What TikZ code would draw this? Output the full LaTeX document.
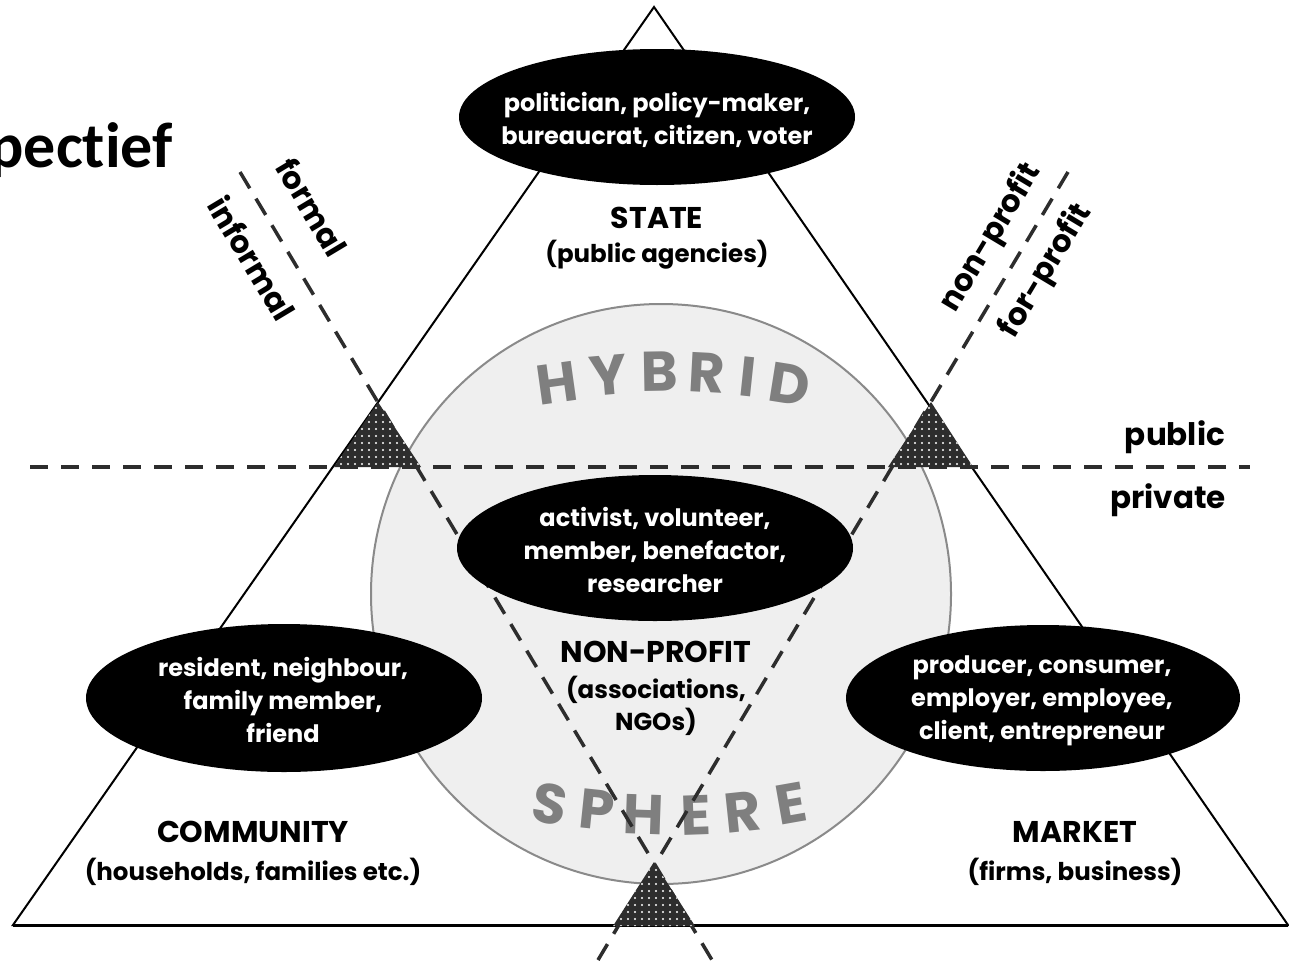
\documentclass[tikz,border=0pt]{standalone}
\usepackage{fontspec}
\setmainfont{Poppins}
\newfontfamily\calibrifont{Carlito}[Ligatures=NoCommon]
\usetikzlibrary{shapes.geometric,patterns}
\pgfdeclarepatternformonly{whitedots}{\pgfqpoint{0pt}{0pt}}{\pgfqpoint{6.5pt}{6.5pt}}{\pgfqpoint{6.5pt}{6.5pt}}{\pgfpathcircle{\pgfqpoint{3.25pt}{3.25pt}}{1.2pt}\pgfusepath{fill}}
\definecolor{hybfill}{HTML}{EFEFEF}
\definecolor{hybline}{HTML}{8A8A8A}
\definecolor{dashcol}{HTML}{2D2D2D}
\definecolor{lettercol}{HTML}{7F7F7F}
\begin{document}
\begin{tikzpicture}[x=1pt,y=-1pt,
  roletext/.style={text=white, font=\bfseries\fontsize{24}{33}\selectfont, align=center, inner sep=0pt},
  blob/.style={fill=black},
  headtext/.style={font=\bfseries\fontsize{30}{31}\selectfont, inner sep=0pt},
  subtext/.style={font=\bfseries\fontsize{24.5}{32}\selectfont, align=center, inner sep=0pt},
  divtext/.style={font=\bfseries\fontsize{31}{32}\selectfont, inner sep=0pt},
  dashline/.style={draw=dashcol, line width=3.5pt, dash pattern=on 19pt off 12pt},
  hdash/.style={draw=dashcol, line width=4pt, dash pattern=on 18pt off 13pt},
  dottri/.style={fill=dashcol, postaction={pattern=whitedots, pattern color=white}},
  arcletter/.style={text=lettercol, font=\bfseries\fontsize{56}{56}\selectfont, inner sep=0pt}
]
\useasboundingbox (0,0) rectangle (1289,961);
\fill[white] (0,0) rectangle (1289,961);

% title fragment
\node[anchor=base east, font=\calibrifont\bfseries\fontsize{64}{66}\selectfont, inner sep=0pt] (title) at (173,167) {pectief};

% hybrid circle
\coordinate (hc) at (661,594);
\draw[fill=hybfill, draw=hybline, line width=2pt] (hc) circle[radius=290pt];

% HYBRID letters
\node[arcletter, rotate=8]  (h1) at (557,383) {H};
\node[arcletter, rotate=5]  (h2) at (608,375) {Y};
\node[arcletter, rotate=1]  (h3) at (660,372) {B};
\node[arcletter, rotate=-3] (h4) at (707,373) {R};
\node[arcletter, rotate=-6] (h5) at (748,377) {I};
\node[arcletter, rotate=-9] (h6) at (790,384) {D};
% SPHERE letters
\node[arcletter, rotate=-10] (s1) at (550,804) {S};
\node[arcletter, rotate=-6] (s2) at (597,810) {P};
\node[arcletter, rotate=-2] (s3) at (644,815) {H};
\node[arcletter, rotate=2]  (s4) at (696,815) {E};
\node[arcletter, rotate=6]  (s5) at (743,812) {R};
\node[arcletter, rotate=10] (s6) at (791,803) {E};

% big triangle
\coordinate (apex) at (654,7);
\coordinate (bl) at (13,925);
\coordinate (br) at (1288,925);
\draw[line width=2pt, line join=miter] (apex) -- (bl) -- (br) -- cycle;
\draw[line width=3pt] (bl) -- (br);

% public / private divider
\coordinate (hl) at (30,467);
\coordinate (hr) at (1250,467);
\draw[hdash] (hl) -- (hr);

% diagonal dividers
\coordinate (la) at (240,172);
\coordinate (lb) at (712,960);
\coordinate (ra) at (1068,172);
\coordinate (rb) at (598,960);
\draw[dashline] (la) -- (lb);
\draw[dashline] (ra) -- (rb);

% role ellipses
\fill[blob] (657,117) ellipse[x radius=198pt, y radius=68pt];
\node[roletext] (rstate) at (657,120) {politician, policy-maker,\\bureaucrat, citizen, voter};
\fill[blob] (655,548) ellipse[x radius=198pt, y radius=73pt];
\node[roletext] (rnp) at (655,550) {activist, volunteer,\\member, benefactor,\\researcher};
\fill[blob] (284,698) ellipse[x radius=198pt, y radius=74pt];
\node[roletext] (rcom) at (283,700) {resident, neighbour,\\family member,\\friend};
\fill[blob] (1043,698) ellipse[x radius=197pt, y radius=73pt];
\node[roletext] (rmkt) at (1042,701) {producer, consumer,\\employer, employee,\\client, entrepreneur};

% dotted triangles
\coordinate (t1a) at (378,402); \coordinate (t1l) at (334,467); \coordinate (t1r) at (421,467);
\coordinate (t2a) at (931,402); \coordinate (t2l) at (888,467); \coordinate (t2r) at (973,467);
\coordinate (t3a) at (654,862); \coordinate (t3l) at (613,926); \coordinate (t3r) at (695,926);
\fill[dottri] (t1a) -- (t1l) -- (t1r) -- cycle;
\fill[dottri] (t2a) -- (t2l) -- (t2r) -- cycle;
\fill[dottri] (t3a) -- (t3l) -- (t3r) -- cycle;

% sector labels
\node[headtext] (state) at (657,218) {STATE};
\node[subtext] (statesub) at (657,255) {(public agencies)};
\node[headtext] (np) at (656,652) {NON-PROFIT};
\node[subtext] (npsub) at (656,706) {(associations,\\NGOs)};
\node[headtext] (com) at (253,832) {COMMUNITY};
\node[subtext] (comsub) at (253,872) {(households, families etc.)};
\node[headtext] (mkt) at (1075,832) {MARKET};
\node[subtext] (mktsub) at (1075,872) {(firms, business)};

% divider labels
\node[divtext, rotate=-59] (formal) at (312,207) {formal};
\node[divtext, rotate=-59] (informal) at (252,258) {informal};
\node[divtext, rotate=59] (nonprofit) at (991,238) {non-profit};
\node[divtext, rotate=59] (forprofit) at (1046,271) {for-profit};
\node[divtext] (public) at (1175,437) {public};
\node[divtext] (private) at (1168,500) {private};
\end{tikzpicture}
\end{document}
